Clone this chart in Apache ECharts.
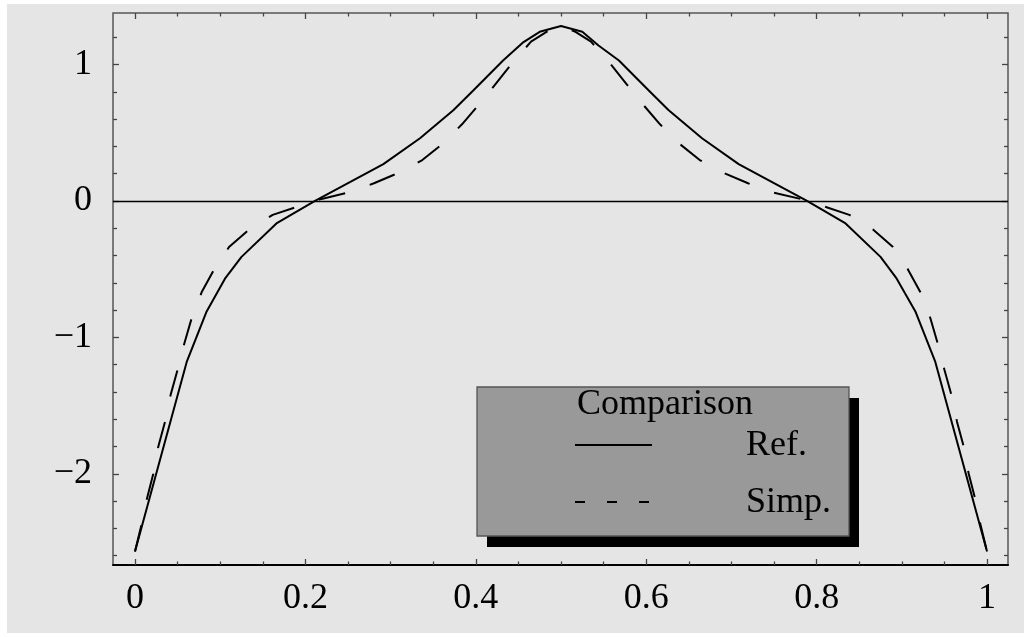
<!DOCTYPE html>
<html>
<head>
<meta charset="utf-8">
<script src="https://cdn.jsdelivr.net/npm/echarts@6/dist/echarts.min.js"></script>
<style>
html,body{margin:0;padding:0;background:#ffffff;}
#bg{position:absolute;left:7px;top:4px;width:1017px;height:629px;background:#e5e5e5;}
#chart{position:absolute;left:0;top:0;width:1031px;height:637px;}
</style>
</head>
<body>
<div id="bg"></div>
<div id="chart"></div>
<script>
// ---- data ----
const refX = [0, 0.0607, 0.0841, 0.1056, 0.125, 0.166, 0.2113, 0.2915, 0.3345, 0.3736, 0.397, 0.432, 0.456, 0.475, 0.5,
              0.525, 0.544, 0.568, 0.603, 0.6264, 0.6655, 0.7085, 0.7887, 0.834, 0.875, 0.894, 0.9159, 0.9393, 1];
const refY = [-2.57, -1.18, -0.81, -0.57, -0.41, -0.165, 0, 0.27, 0.46, 0.665, 0.81, 1.03, 1.165, 1.24, 1.283,
              1.24, 1.14, 1.03, 0.81, 0.665, 0.46, 0.27, 0, -0.165, -0.41, -0.57, -0.81, -1.18, -2.57];

const simpX = [0, 0.0078, 0.0137, 0.0215, 0.0274, 0.0352, 0.0419, 0.0501, 0.0579, 0.0665, 0.0782, 0.093, 0.1107, 0.1342,
               0.1616, 0.191, 0.219, 0.2515, 0.2805, 0.3102, 0.3372, 0.3627, 0.3838, 0.405, 0.4245, 0.444, 0.4648, 0.483, 0.5,
               0.517, 0.5352, 0.556, 0.5755, 0.595, 0.6162, 0.6373, 0.6628, 0.6898, 0.7195, 0.7485, 0.781, 0.809, 0.8384,
               0.8658, 0.8893, 0.907, 0.9218, 0.9335, 0.9421, 0.9499, 0.9581, 0.9648, 0.9726, 0.9785, 0.9863, 0.9922, 1];
const simpY = [-2.57, -2.37, -2.19, -2.0, -1.80, -1.62, -1.42, -1.235, -1.045, -0.86, -0.67, -0.50, -0.335, -0.208,
               -0.102, -0.041, 0.015, 0.063, 0.13, 0.208, 0.30, 0.428, 0.562, 0.716, 0.868, 1.02, 1.168, 1.24, 1.283,
               1.24, 1.168, 1.02, 0.868, 0.716, 0.562, 0.428, 0.30, 0.208, 0.13, 0.063, 0.015, -0.041, -0.102,
               -0.208, -0.335, -0.50, -0.67, -0.86, -1.045, -1.235, -1.42, -1.62, -1.80, -2.0, -2.19, -2.37, -2.57];

const seriesNames = ['Ref.', 'Simp.'];
const legendTitle = 'Comparison';

const xTicks = [0, 0.2, 0.4, 0.6, 0.8, 1];
const xMinorTicks = [0.05, 0.1, 0.15, 0.25, 0.3, 0.35, 0.45, 0.5, 0.55, 0.65, 0.7, 0.75, 0.85, 0.9, 0.95];
const yTicks = [-2, -1, 0, 1];
const yMinorTicks = [-2.6, -2.4, -2.2, -1.8, -1.6, -1.4, -1.2, -0.8, -0.6, -0.4, -0.2, 0.2, 0.4, 0.6, 0.8, 1.2];

const xRange = [-0.0258, 1.0246];
const yRange = [-2.669, 1.378];

// ---- chart ----
const FONT = '"Liberation Serif", "Times New Roman", serif';
const fmt = v => String(v).replace('-', '\u2212');
const tickColor = '#444';

function xAxisDef(pos, ticks, len, withLabels, lineStyle) {
  return {
    type: 'value', position: pos, min: xRange[0], max: xRange[1],
    axisLine: lineStyle ? { show: true, onZero: false, lineStyle: lineStyle } : { show: false, onZero: false },
    axisTick: { show: true, inside: true, length: len, customValues: ticks, lineStyle: { color: tickColor, width: 1.3 } },
    axisLabel: withLabels ? { show: true, customValues: ticks, formatter: fmt, margin: 16,
      fontFamily: FONT, fontSize: 36, color: '#000' } : { show: false },
    splitLine: { show: false }
  };
}
function yAxisDef(pos, ticks, len, withLabels, lineStyle) {
  return {
    type: 'value', position: pos, min: yRange[0], max: yRange[1],
    axisLine: lineStyle ? { show: true, onZero: false, lineStyle: lineStyle } : { show: false, onZero: false },
    axisTick: { show: true, inside: true, length: len, customValues: ticks, lineStyle: { color: tickColor, width: 1.3 } },
    axisLabel: withLabels ? { show: true, customValues: ticks, formatter: fmt, margin: 21,
      fontFamily: FONT, fontSize: 36, color: '#000' } : { show: false },
    splitLine: { show: false }
  };
}

const chart = echarts.init(document.getElementById('chart'), null, { renderer: 'canvas' });

const refData = refX.map((x, i) => [x, refY[i]]);
const simpData = simpX.map((x, i) => [x, simpY[i]]);

// legend box geometry
const LB = { x: 477, y: 387, w: 372, h: 149, sh: 10 };
const LFONT = '36px "Liberation Serif"';

chart.setOption({
  animation: false,
  backgroundColor: 'transparent',
  grid: { left: 113, top: 13, right: 23, bottom: 72, show: true, borderColor: '#555', borderWidth: 1.5, backgroundColor: 'transparent' },
  xAxis: [
    xAxisDef('bottom', xTicks, 6, true, { color: '#000', width: 2 }),
    xAxisDef('bottom', xMinorTicks, 3.5, false, null),
    xAxisDef('top', xTicks, 6, false, null),
    xAxisDef('top', xMinorTicks, 3.5, false, null)
  ],
  yAxis: [
    yAxisDef('left', yTicks, 6, true, null),
    yAxisDef('left', yMinorTicks, 4, false, null),
    yAxisDef('right', yTicks, 6, false, null),
    yAxisDef('right', yMinorTicks, 4, false, null)
  ],
  series: [
    {
      name: seriesNames[0], type: 'line', data: refData, xAxisIndex: 0, yAxisIndex: 0,
      showSymbol: false, symbol: 'none', smooth: false,
      lineStyle: { color: '#000', width: 2 },
      markLine: {
        silent: true, symbol: ['none', 'none'], label: { show: false },
        lineStyle: { color: '#000', width: 1.3, type: 'solid' },
        data: [{ yAxis: 0 }]
      }
    },
    {
      name: seriesNames[1], type: 'line', data: simpData, xAxisIndex: 0, yAxisIndex: 0,
      showSymbol: false, symbol: 'none', smooth: false,
      lineStyle: { color: '#000', width: 2, type: [27, 26] }
    }
  ],
  graphic: [
    { type: 'rect', z: 100, shape: { x: LB.x + LB.sh, y: LB.y + LB.sh + 1, width: LB.w, height: LB.h }, style: { fill: '#000' } },
    { type: 'rect', z: 101, shape: { x: LB.x, y: LB.y, width: LB.w, height: LB.h }, style: { fill: '#999999', stroke: '#555', lineWidth: 1.3 } },
    { type: 'text', z: 102, style: { x: 577, y: 405, text: legendTitle, font: LFONT, fill: '#000', verticalAlign: 'middle' } },
    { type: 'line', z: 102, shape: { x1: 575, y1: 445, x2: 652, y2: 445 }, style: { stroke: '#000', lineWidth: 2 } },
    { type: 'text', z: 102, style: { x: 746, y: 446, text: seriesNames[0], font: LFONT, fill: '#000', verticalAlign: 'middle' } },
    { type: 'line', z: 102, shape: { x1: 575, y1: 502, x2: 652, y2: 502 }, style: { stroke: '#000', lineWidth: 2, lineDash: [10, 22] } },
    { type: 'text', z: 102, style: { x: 746, y: 503, text: seriesNames[1], font: LFONT, fill: '#000', verticalAlign: 'middle' } }
  ]
});
</script>
</body>
</html>
